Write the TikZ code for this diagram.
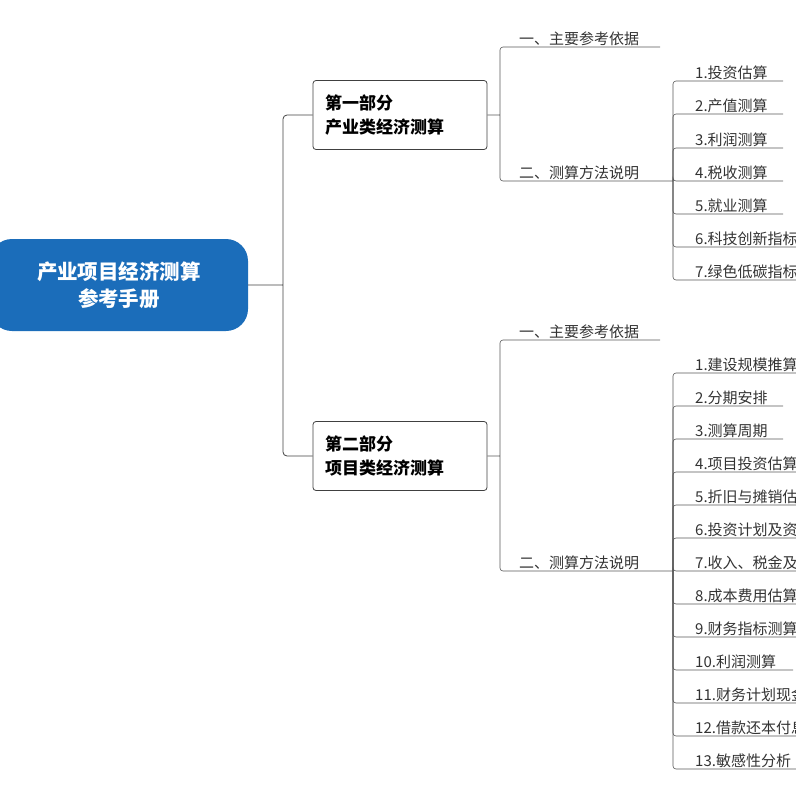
\documentclass[tikz,border=0pt]{standalone}
\usepackage{fontspec}
\setmainfont{Noto Sans CJK SC}
\usetikzlibrary{positioning}
\definecolor{rootblue}{HTML}{1B6DBA}

\begin{document}
\begin{tikzpicture}[x=1pt,y=-1pt,
    root/.style ={rectangle, rounded corners=22pt, fill=rootblue,
      text=white, font=\fontsize{20.5}{27}\selectfont\bfseries, align=center,
      minimum width=258pt, minimum height=92pt},
    part/.style ={rectangle, rounded corners=3pt, draw=black!75, thick,
      font=\fontsize{17}{24}\selectfont\bfseries, align=left,
      minimum width=174pt, minimum height=69pt, text width=150pt},
    item/.style ={anchor=south west, inner sep=1pt, text=black!80,
      font=\fontsize{15}{17}\selectfont},
    line/.style ={draw=black!65, semithick, rounded corners=3pt}]
  \useasboundingbox (0,0) rectangle (796,796);
  \begin{scope}
    \clip (0,0) rectangle (796,796);
    % root and the two parts
    \node [root] (root) at (119,285) {产业项目经济测算\\参考手册};
    \node [part] (p1) at (400,115) {第一部分\\产业类经济测算};
    \node [part] (p2) at (400,456) {第二部分\\项目类经济测算};
    \draw [draw=black!75, thick, rounded corners=4pt]
      (root.east) -- (283,285) (283,285) |- (p1.west)
      (283,285) |- (p2.west);
    % part one
    \coordinate (a1) at (500,115);
    \draw [line] (p1.east) -- (a1) (a1) |- (660,47) (a1) |- (673,181);
    \node [item] (a1ref) at (518,47) {一、主要参考依据};
    \node [item] (a1way) at (518,181) {二、测算方法说明};
    \foreach \y/\w/\t in {81/783/1.投资估算, 114/783/2.产值测算, 148/783/3.利润测算,
        181/783/4.税收测算, 214/783/5.就业测算, 247/800/6.科技创新指标测算,
        280/800/7.绿色低碳指标测算} {
      \draw [line] (673,181) |- (\w,\y);
      \node [item] at (694,\y) {\t};
    }
    % part two
    \coordinate (a2) at (500,456);
    \draw [line] (p2.east) -- (a2) (a2) |- (660,340) (a2) |- (673,571);
    \node [item] (a2ref) at (518,340) {一、主要参考依据};
    \node [item] (a2way) at (518,571) {二、测算方法说明};
    \foreach \y/\w/\t in {373/800/1.建设规模推算, 406/783/2.分期安排, 439/783/3.测算周期,
        472/800/4.项目投资估算, 505/800/5.折旧与摊销估算, 538/800/6.投资计划及资金筹措,
        571/800/7.收入、税金及附加估算, 604/800/8.成本费用估算, 637/800/9.财务指标测算,
        670/793/10.利润测算, 703/800/11.财务计划现金流量, 736/800/12.借款还本付息,
        769/800/13.敏感性分析} {
      \draw [line] (673,571) |- (\w,\y);
      \node [item] at (694,\y) {\t};
    }
  \end{scope}
\end{tikzpicture}
\end{document}
